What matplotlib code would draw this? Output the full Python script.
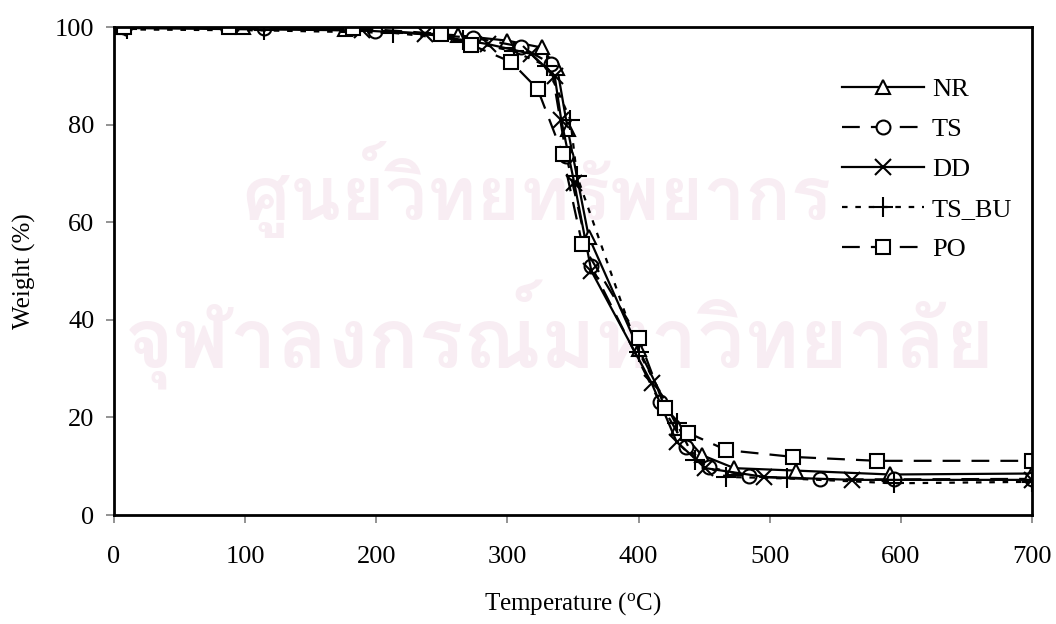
import matplotlib
matplotlib.use("Agg")
import matplotlib.pyplot as plt
from matplotlib import font_manager, ft2font

# ---------------- data ----------------
NR_T = [5, 98, 176, 262, 300, 326, 338, 346, 362, 400, 430, 448, 473, 520, 592, 700]
NR_W = [100, 100, 99.6, 98.3, 97.2, 95.8, 91.5, 79, 57, 34, 17.8, 12.3, 9.6, 9.1, 8.3, 8.5]

TS_T = [8, 114, 199, 274, 310, 333, 345, 364, 416, 436, 454, 484, 538, 595, 700]
TS_W = [100, 99.7, 99.2, 97.8, 96.0, 92.5, 73.5, 51, 23.2, 14.0, 9.8, 7.9, 7.3, 7.3, 7.4]

DD_T = [3, 189, 237, 285, 318, 336, 341, 351, 364, 410, 429, 451, 496, 563, 700]
DD_W = [99.8, 99.3, 98.6, 96.5, 94.5, 90.0, 81, 68, 50, 27, 15.0, 9.6, 7.8, 7.2, 7.2]

TSBU_T = [10, 114, 213, 266, 305, 330, 348, 353, 400, 429, 443, 467, 513, 595, 700]
TSBU_W = [99.5, 99.3, 98.8, 97.3, 95.0, 92.0, 81, 69.5, 33.5, 18.8, 11.3, 7.8, 7.5, 6.5, 6.8]

PO_T = [8, 88, 182, 249, 272, 303, 323, 342, 357, 400, 420, 438, 467, 518, 582, 700]
PO_W = [100, 100, 99.8, 98.6, 96.4, 92.8, 87.3, 74, 55.5, 36.3, 22.0, 16.8, 13.3, 11.9, 11.1, 11.1]

X_TICKS = [0, 100, 200, 300, 400, 500, 600, 700]
Y_TICKS = [0, 20, 40, 60, 80, 100]

# ---------------- style ----------------
plt.rcParams["font.family"] = ["Liberation Serif", "DejaVu Serif"]
plt.rcParams["mathtext.fontset"] = "custom"
plt.rcParams["mathtext.rm"] = "Liberation Serif"

W, H = 1056, 624
fig = plt.figure(figsize=(W / 100, H / 100), dpi=100)
fig.patch.set_facecolor("white")

# faint watermark (only if a Thai-capable font is installed)
thai_font = None
for f in font_manager.fontManager.ttflist:
    try:
        cm = ft2font.FT2Font(f.fname).get_charmap()
    except Exception:
        continue
    if 0x0E28 in cm and 0x0E22 in cm and 0x0E08 in cm:
        thai_font = f.name
        break
if thai_font:
    fig.text(537 / W, 1 - 190 / H, "ศูนย์วิทยทรัพยากร", family=thai_font,
             fontsize=54, fontweight="bold", color="#f8edf3", ha="center", va="center", zorder=-5)
    fig.text(560 / W, 1 - 335 / H, "จุฬาลงกรณ์มหาวิทยาลัย", family=thai_font,
             fontsize=60, fontweight="bold", color="#f8edf3", ha="center", va="center", zorder=-5)

ax = fig.add_axes([114 / W, 1 - 515 / H, (1032 - 114) / W, (515 - 27) / H])
ax.patch.set_alpha(0)

mk = dict(mfc="white", mec="black", mew=1.5, color="black", lw=1.6)
ax.plot(NR_T, NR_W, marker="^", ms=10, ls="-", label="NR", **mk)
ax.plot(TS_T, TS_W, marker="o", ms=10, ls=(0, (8, 5)), label="TS", **mk)
ax.plot(DD_T, DD_W, marker="x", ms=11, ls="-", label="DD", **mk)
ax.plot(TSBU_T, TSBU_W, marker="+", ms=14, ls=(0, (2.5, 3.5)), label="TS_BU", **mk)
ax.plot(PO_T, PO_W, marker="s", ms=10, ls=(0, (8, 5)), label="PO", **mk)

ax.set_xlim(0, 700)
ax.set_ylim(0, 100)
ax.set_xticks(X_TICKS)
ax.set_yticks(Y_TICKS)
for s in ax.spines.values():
    s.set_linewidth(2.0)
    s.set_color("black")
ax.tick_params(axis="both", direction="out", length=6, width=1.2, color="#808080",
               labelsize=19, labelcolor="black")
ax.tick_params(axis="x", pad=16)
ax.tick_params(axis="y", pad=8)

ax.set_xlabel(r"Temperature ($\mathregular{^o}$C)", fontsize=18, labelpad=16)
ax.set_ylabel("Weight (%)", fontsize=18, labelpad=14)

leg = ax.legend(loc="upper left", bbox_to_anchor=((842 - 114) / (1032 - 114), 1 - (78 - 27) / (515 - 27)),
                frameon=False, fontsize=19, handlelength=3.1, handletextpad=0.3,
                labelspacing=0.62, borderaxespad=0, borderpad=0)

fig.savefig("out.png", dpi=100, facecolor="white")
